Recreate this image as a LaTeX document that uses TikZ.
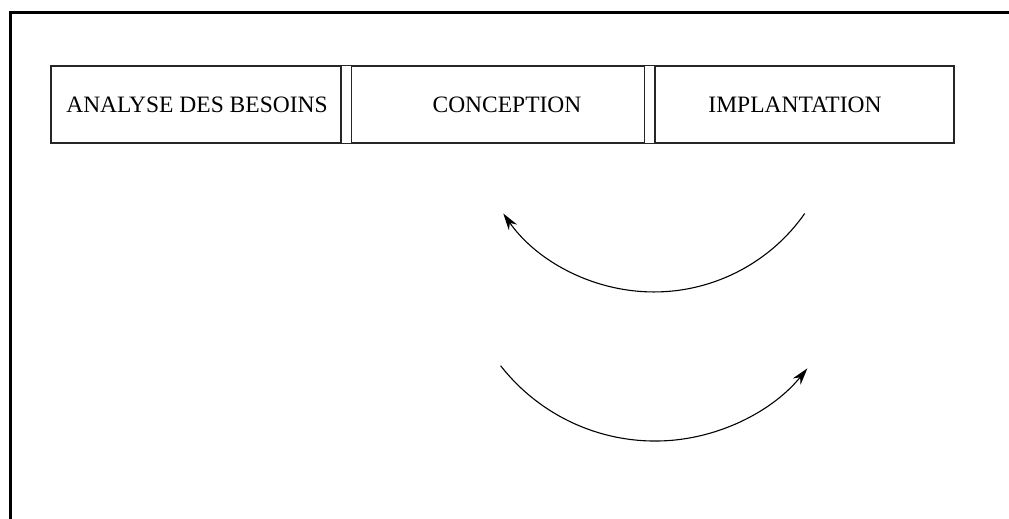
\documentclass[tikz,border=0pt]{standalone}
\usepackage{fontspec}
\setmainfont{Liberation Serif}
\usepackage{tikz}
\usetikzlibrary{arrows.meta,positioning}

\begin{document}
\begin{tikzpicture}[
    x=1pt, y=1pt,
    node distance=9pt,
    phase/.style={draw=black!85, line width=1.4pt, minimum height=77pt, inner sep=0pt},
    phaselabel/.style={font=\fontsize{23.5}{28}\selectfont},
    frame/.style={line width=3pt},
    loop/.style={line width=1.1pt, -{Stealth[length=17pt,width=10pt]}}
]
\useasboundingbox (0,0) rectangle (1009,519);
\draw[frame] (10,0) -- (10,506) -- (1009,506);

% the three phases
\node[phase, minimum width=290pt] (analyse) at (196,414.5) {};
\node[phase, minimum width=293pt, right=of analyse] (conception) {};
\node[phase, minimum width=299pt, right=of conception] (implantation) {};
\node[phaselabel] (t-analyse) at (197,414.5) {ANALYSE DES BESOINS};
\node[phaselabel] (t-conception) at (507,414.5) {CONCEPTION};
\node[phaselabel] (t-implantation) at (795,414.5) {IMPLANTATION};

\draw[phase] (analyse.north east) -- (conception.north west);
\draw[phase] (analyse.south east) -- (conception.south west);
\draw[phase] (conception.north east) -- (implantation.north west);
\draw[phase] (conception.south east) -- (implantation.south west);

% back and forth
\coordinate (back) at (804.7,305.5);
\coordinate (forth) at (500.6,153.3);
\draw[loop] (back) arc[start angle=-35, end angle=-145, radius=184];
\draw[loop] (forth) arc[start angle=-142, end angle=-39, radius=196];
\end{tikzpicture}
\end{document}
